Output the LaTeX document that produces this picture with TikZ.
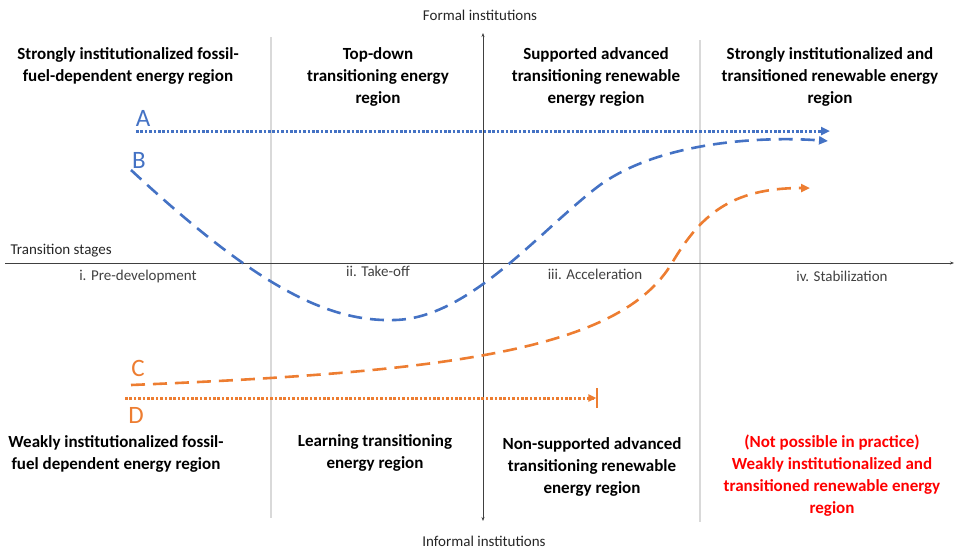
\documentclass[tikz,border=0pt]{standalone}
\usepackage{fontspec}
\setmainfont{Carlito}
\usetikzlibrary{arrows.meta}
\definecolor{pathblue}{HTML}{4472C4}
\definecolor{pathorange}{HTML}{ED7D31}
\definecolor{axisgray}{HTML}{404040}
\definecolor{bordergray}{HTML}{D9D9D9}

\begin{document}
\begin{tikzpicture}[x=1pt,y=-1pt,
  region/.style={font=\fontsize{17}{22}\selectfont\bfseries,align=center,
    anchor=north,inner sep=0pt},
  stagelabel/.style={font=\fontsize{15}{17}\selectfont,text=axisgray},
  axislabel/.style={font=\fontsize{15}{17}\selectfont,text=black!85},
  letter/.style={font=\fontsize{25}{25}\selectfont},
  dashpath/.style={line width=2.6pt,dash pattern=on 14pt off 8pt},
  dotpath/.style={line width=3pt,dash pattern=on 2.6pt off 1.8pt},
  tip/.style={-{Triangle[length=9pt,width=8pt]}}]
  \useasboundingbox (0,0) rectangle (954,550);
  % Stage borders.
  \draw[bordergray,line width=1.2pt] (271,37) -- (271,518);
  \draw[bordergray,line width=1.2pt] (700,40) -- (700,522);
  % Axes.
  \node[axislabel] (formal) at (480,15) {Formal institutions};
  \node[axislabel] (informal) at (484,541) {Informal institutions};
  \coordinate (top) at (483,33);
  \coordinate (bottom) at (483,521);
  \coordinate (west) at (5,263);
  \coordinate (east) at (954,263);
  \draw[axisgray,line width=1pt,{Stealth[length=4pt,width=3pt]}-{Stealth[length=4pt,width=3pt]}]
    (bottom) -- (top);
  \draw[axisgray,line width=1pt,-{Stealth[length=4pt,width=3pt]}] (west) -- (east);
  \node[axislabel,anchor=west] (stages) at (7,251) {Transition stages};
  % Stages.
  \foreach \x/\y/\name/\txt in {138/276/pre/i. Pre-development,
      378/271/takeoff/ii. Take-off, 595/274/accel/iii. Acceleration,
      842/276/stab/iv. Stabilization}
    \node[stagelabel] (\name) at (\x,\y) {\txt};
  % Regions above the axis.
  \node[region] (fossilstrong) at (128,47)
    {Strongly institutionalized fossil-\\fuel-dependent energy region};
  \node[region] (topdown) at (378,47) {Top-down\\transitioning energy\\region};
  \node[region] (supported) at (596,47)
    {Supported advanced\\transitioning renewable\\energy region};
  \node[region] (renewstrong) at (830,47)
    {Strongly institutionalized and\\transitioned renewable energy\\region};
  % Regions below the axis.
  \node[region] (fossilweak) at (116,435)
    {Weakly institutionalized fossil-\\fuel dependent energy region};
  \node[region] (learning) at (375,434) {Learning transitioning\\energy region};
  \node[region] (nonsupported) at (592,437)
    {Non-supported advanced\\transitioning renewable\\energy region};
  \node[region,text=red] (renewweak) at (832,435)
    {(Not possible in practice)\\Weakly institutionalized and\\transitioned renewable energy\\region};
  % Paths A and B.
  \node[letter,text=pathblue] (A) at (143,118) {A};
  \node[letter,text=pathblue] (B) at (139,160) {B};
  \coordinate (A0) at (136,131);
  \coordinate (A1) at (830,131);
  \draw[pathblue,dotpath,tip] (A0) -- (A1);
  \coordinate (B0) at (131,170);
  \coordinate (B1) at (828,141);
  \draw[pathblue,dashpath,tip] (B0)
    .. controls (260,290) and (330,322) .. (395,320)
    .. controls (470,318) and (540,230) .. (600,185)
    .. controls (660,142) and (760,136) .. (B1);
  % Paths C and D.
  \node[letter,text=pathorange] (C) at (138,368) {C};
  \node[letter,text=pathorange] (D) at (136,415) {D};
  \coordinate (C0) at (131,385);
  \coordinate (C1) at (810,188);
  \draw[pathorange,dashpath,tip] (C0)
    .. controls (450,372) and (620,350) .. (672,263)
    .. controls (700,216) and (730,188) .. (C1);
  \coordinate (D0) at (125,398);
  \coordinate (D1) at (598,398);
  \draw[pathorange,dotpath,-{Triangle[length=8pt,width=7pt]Bar[width=20pt,line width=1.6pt]}]
    (D0) -- (D1);
\end{tikzpicture}
\end{document}
